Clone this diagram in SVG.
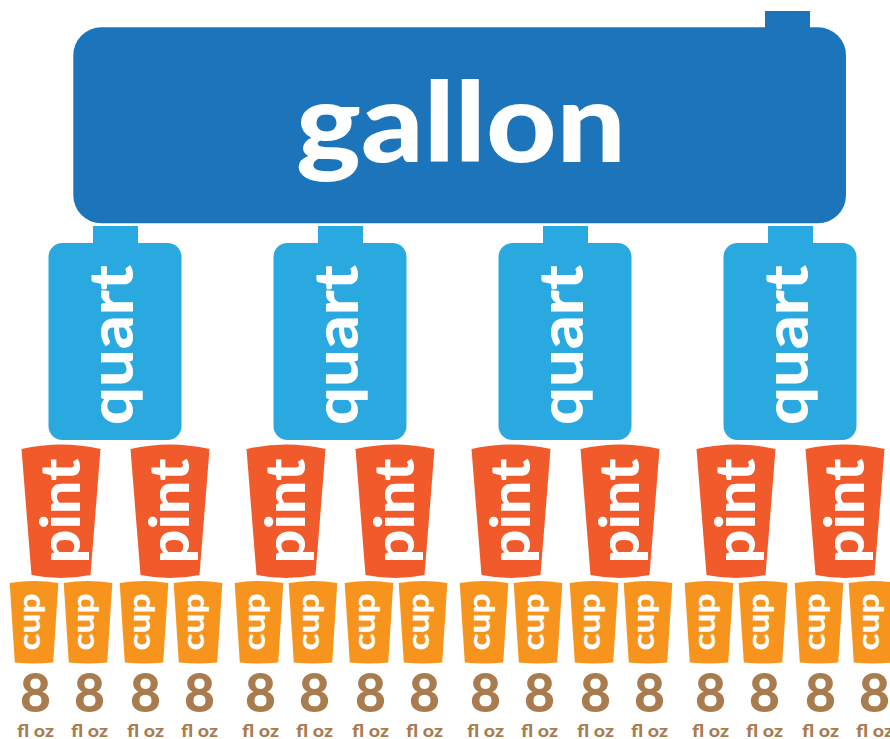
<svg xmlns="http://www.w3.org/2000/svg" xmlns:xlink="http://www.w3.org/1999/xlink" width="890" height="739" viewBox="0 0 890 739">
  <style>
    .gallon { fill: #1C75BB; }
    .quart { fill: #29A9E0; }
    .pint { fill: #F15A2B; }
    .cup { fill: #F7941E; }
    .lbl { font-family: Lato, "Liberation Sans", Arial, sans-serif; font-weight: 900; fill: #FFFFFF; text-anchor: middle; }
    .lbl-gallon { font-size: 110px; }
    .lbl-quart { font-size: 60px; }
    .lbl-pint { font-size: 56px; }
    .lbl-cup { font-size: 30px; }
    .amt { font-family: Lato, "Liberation Sans", Arial, sans-serif; font-weight: 900; fill: #A97C50; text-anchor: middle; }
    .amt-num { font-size: 53px; }
    .amt-unit { font-size: 17px; }
  </style>
  <defs>
    <!-- tapered glass shapes, drawn around x = 0 -->
    <path id="pint-shape" d="M -39.5 449 Q 0 440 39.5 449 L 29.5 575 Q 0 581 -29.5 575 Z"/>
    <path id="cup-shape" d="M -24.3 583 Q 0 579 24.3 583 L 19.2 662.5 Q 0 664.5 -19.2 662.5 Z"/>
    <!-- quart bottle: neck + rounded body -->
    <g id="quart-shape">
      <rect x="-22" y="226" width="45" height="22"/>
      <rect x="-66.5" y="243" width="133" height="197" rx="14" ry="14"/>
    </g>
    <!-- cup label with its fluid-ounce amount underneath -->
    <g id="cup-node">
      <use xlink:href="#cup-shape" class="cup"/>
      <text class="lbl lbl-cup" transform="translate(6,622) rotate(-90)" textLength="57" lengthAdjust="spacingAndGlyphs">cup</text>
      <text class="amt amt-num" x="1.5" y="711.5" textLength="31" lengthAdjust="spacingAndGlyphs">8</text>
      <text class="amt amt-unit" x="1.5" y="736.5" textLength="37" lengthAdjust="spacingAndGlyphs">fl oz</text>
    </g>
  </defs>

  <!-- gallon jug -->
  <g id="gallon">
    <rect class="gallon" x="765" y="11" width="45" height="20"/>
    <rect class="gallon" x="73.3" y="27.3" width="772.7" height="196" rx="28" ry="28"/>
    <text class="lbl lbl-gallon" x="461" y="162" textLength="330" lengthAdjust="spacingAndGlyphs">gallon</text>
  </g>

  <!-- quarts -->
  <g id="quart-1" transform="translate(115,0)">
    <use xlink:href="#quart-shape" class="quart"/>
    <text class="lbl lbl-quart" transform="translate(18,345) rotate(-90)" textLength="160" lengthAdjust="spacingAndGlyphs">quart</text>
  </g>
  <g id="quart-2" transform="translate(340,0)">
    <use xlink:href="#quart-shape" class="quart"/>
    <text class="lbl lbl-quart" transform="translate(18,345) rotate(-90)" textLength="160" lengthAdjust="spacingAndGlyphs">quart</text>
  </g>
  <g id="quart-3" transform="translate(565,0)">
    <use xlink:href="#quart-shape" class="quart"/>
    <text class="lbl lbl-quart" transform="translate(18,345) rotate(-90)" textLength="160" lengthAdjust="spacingAndGlyphs">quart</text>
  </g>
  <g id="quart-4" transform="translate(790,0)">
    <use xlink:href="#quart-shape" class="quart"/>
    <text class="lbl lbl-quart" transform="translate(18,345) rotate(-90)" textLength="160" lengthAdjust="spacingAndGlyphs">quart</text>
  </g>

  <!-- pints -->
  <g id="pint-1" transform="translate(61,0)">
    <use xlink:href="#pint-shape" class="pint"/>
    <text class="lbl lbl-pint" transform="translate(19,511) rotate(-90)" textLength="105" lengthAdjust="spacingAndGlyphs">pint</text>
  </g>
  <g id="pint-2" transform="translate(170,0)">
    <use xlink:href="#pint-shape" class="pint"/>
    <text class="lbl lbl-pint" transform="translate(19,511) rotate(-90)" textLength="105" lengthAdjust="spacingAndGlyphs">pint</text>
  </g>
  <g id="pint-3" transform="translate(286,0)">
    <use xlink:href="#pint-shape" class="pint"/>
    <text class="lbl lbl-pint" transform="translate(19,511) rotate(-90)" textLength="105" lengthAdjust="spacingAndGlyphs">pint</text>
  </g>
  <g id="pint-4" transform="translate(395,0)">
    <use xlink:href="#pint-shape" class="pint"/>
    <text class="lbl lbl-pint" transform="translate(19,511) rotate(-90)" textLength="105" lengthAdjust="spacingAndGlyphs">pint</text>
  </g>
  <g id="pint-5" transform="translate(511,0)">
    <use xlink:href="#pint-shape" class="pint"/>
    <text class="lbl lbl-pint" transform="translate(19,511) rotate(-90)" textLength="105" lengthAdjust="spacingAndGlyphs">pint</text>
  </g>
  <g id="pint-6" transform="translate(620,0)">
    <use xlink:href="#pint-shape" class="pint"/>
    <text class="lbl lbl-pint" transform="translate(19,511) rotate(-90)" textLength="105" lengthAdjust="spacingAndGlyphs">pint</text>
  </g>
  <g id="pint-7" transform="translate(736,0)">
    <use xlink:href="#pint-shape" class="pint"/>
    <text class="lbl lbl-pint" transform="translate(19,511) rotate(-90)" textLength="105" lengthAdjust="spacingAndGlyphs">pint</text>
  </g>
  <g id="pint-8" transform="translate(845,0)">
    <use xlink:href="#pint-shape" class="pint"/>
    <text class="lbl lbl-pint" transform="translate(19,511) rotate(-90)" textLength="105" lengthAdjust="spacingAndGlyphs">pint</text>
  </g>

  <!-- cups -->
  <g id="cup-1" transform="translate(34,0)"><use xlink:href="#cup-node"/></g>
  <g id="cup-2" transform="translate(88,0)"><use xlink:href="#cup-node"/></g>
  <g id="cup-3" transform="translate(144,0)"><use xlink:href="#cup-node"/></g>
  <g id="cup-4" transform="translate(198,0)"><use xlink:href="#cup-node"/></g>
  <g id="cup-5" transform="translate(259,0)"><use xlink:href="#cup-node"/></g>
  <g id="cup-6" transform="translate(313,0)"><use xlink:href="#cup-node"/></g>
  <g id="cup-7" transform="translate(369,0)"><use xlink:href="#cup-node"/></g>
  <g id="cup-8" transform="translate(423,0)"><use xlink:href="#cup-node"/></g>
  <g id="cup-9" transform="translate(484,0)"><use xlink:href="#cup-node"/></g>
  <g id="cup-10" transform="translate(538,0)"><use xlink:href="#cup-node"/></g>
  <g id="cup-11" transform="translate(594,0)"><use xlink:href="#cup-node"/></g>
  <g id="cup-12" transform="translate(648,0)"><use xlink:href="#cup-node"/></g>
  <g id="cup-13" transform="translate(709,0)"><use xlink:href="#cup-node"/></g>
  <g id="cup-14" transform="translate(763,0)"><use xlink:href="#cup-node"/></g>
  <g id="cup-15" transform="translate(819,0)"><use xlink:href="#cup-node"/></g>
  <g id="cup-16" transform="translate(873,0)"><use xlink:href="#cup-node"/></g>
</svg>
